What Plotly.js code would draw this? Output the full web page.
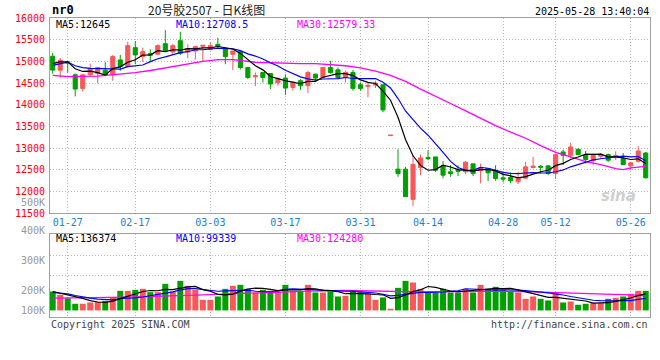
<!DOCTYPE html>
<html>
<head>
<meta charset="utf-8">
<script src="https://cdn.plot.ly/plotly-3.0.1.min.js"></script>
<style>html,body{margin:0;padding:0;background:#fff;}#chart{width:660px;height:360px;}</style>
</head>
<body>
<div id="chart"></div>
<script>
const dates = ["01-23","01-24","01-27","02-05","02-06","02-07","02-10","02-11","02-12","02-13",
 "02-14","02-17","02-18","02-19","02-20","02-21","02-24","02-25","02-26","02-27",
 "02-28","03-03","03-04","03-05","03-06","03-07","03-10","03-11","03-12","03-13",
 "03-14","03-17","03-18","03-19","03-20","03-21","03-24","03-25","03-26","03-27",
 "03-28","03-31","04-01","04-02","04-03","04-07","04-08","04-09","04-10","04-11",
 "04-14","04-15","04-16","04-17","04-18","04-21","04-22","04-23","04-24","04-25",
 "04-28","04-29","04-30","05-06","05-07","05-08","05-09","05-12","05-13","05-14",
 "05-15","05-16","05-19","05-20","05-21","05-22","05-23","05-26","05-27","05-28"];

const openP = [15118,14798,14990,14691,14378,14691,14722,14798,14691,15035,
 14882,15317,15111,15180,15164,15408,15218,15477,15218,15240,
 15350,15271,15393,15294,15164,15225,14859,14645,14745,14722,
 14508,14615,14401,14554,14439,14706,14630,14859,14806,14630,
 14745,14462,14417,14455,14462,13290,12517,12517,11822,12555,
 12784,12799,12593,12456,12494,12456,12639,12479,12532,12479,
 12318,12326,12227,12310,12555,12586,12593,12418,12914,12837,
 12975,12837,12708,12814,12853,12814,12761,12593,12700,12890];
const closeP = [14800,15027,14960,14363,14691,14836,14859,14684,15111,14882,
 15363,15149,15225,15140,15363,15256,15363,15187,15294,15340,
 15370,15363,15347,15111,15240,14859,14630,14668,14630,14478,
 14607,14386,14516,14439,14745,14615,14859,14745,14630,14745,
 14378,14378,14447,14500,13882,13300,12418,11883,12623,12776,
 12761,12494,12379,12418,12471,12677,12418,12547,12433,12303,
 12288,12250,12318,12570,12586,12563,12418,12853,12837,13028,
 12853,12738,12837,12860,12723,12830,12624,12662,12936,12318];
const highP = [15195,15080,15010,14722,14706,14951,14870,14981,15149,15149,
 15454,15470,15317,15280,15393,15720,15408,15683,15393,15355,
 15380,15439,15546,15294,15240,15240,14874,14745,14745,14722,
 14630,14706,14516,14592,14783,14722,14874,15011,14859,14783,
 14806,14516,14516,14554,14462,13300,12975,12570,12837,12852,
 12952,12799,12707,12608,12608,12707,12639,12646,12532,12608,
 12456,12440,12456,12685,12799,12608,12608,12853,12967,13120,
 12997,12936,12875,12890,12875,12929,12890,12685,13051,12914];
const lowP = [14714,14622,14740,14195,14310,14668,14493,14660,14554,14783,
 14859,14935,14989,14980,15149,15225,15149,15149,15073,15042,
 15010,15271,15302,14935,14798,14813,14592,14432,14516,14363,
 14439,14226,14325,14340,14272,14554,14615,14722,14592,14516,
 14325,14325,14172,14386,13829,13290,12341,11883,11670,12379,
 12723,12456,12303,12341,12356,12402,12356,12189,12242,12250,
 12212,12189,12174,12295,12532,12418,12380,12288,12608,12761,
 12837,12646,12608,12761,12684,12723,12624,12494,12669,12303];

const ma5P = [14950,14990,14990,14830,14768,14775,14742,14687,14836,14874,
 14980,15038,15146,15152,15248,15227,15269,15262,15293,15288,
 15311,15311,15343,15306,15286,15184,15037,14902,14805,14653,
 14603,14554,14523,14485,14539,14540,14635,14681,14719,14719,
 14671,14575,14516,14490,14317,14105,13713,13200,12825,12604,
 12492,12507,12607,12566,12505,12488,12473,12506,12509,12476,
 12398,12364,12318,12346,12402,12457,12491,12598,12651,12740,
 12798,12862,12859,12863,12802,12798,12775,12740,12755,12645];
const ma10P = [14910,14950,14985,14900,14855,14840,14835,14835,14835,14821,
 14878,14890,14917,14994,15061,15104,15154,15204,15223,15268,
 15269,15290,15303,15300,15287,15248,15174,15123,15056,14970,
 14894,14796,14713,14645,14596,14572,14595,14602,14602,14629,
 14606,14605,14599,14605,14518,14388,14144,13858,13658,13461,
 13299,13110,12904,12696,12555,12490,12490,12557,12538,12491,
 12443,12419,12412,12428,12439,12428,12428,12458,12499,12571,
 12628,12677,12729,12757,12771,12798,12819,12800,12809,12708.5];
const ma30Dates = ["01-23","01-27","02-10","02-13","02-17","02-19","02-21","02-26","02-28","03-04",
 "03-06","03-11","03-14","03-19","03-21","03-27","03-31","04-02","04-07","04-09",
 "04-11","04-15","04-17","04-21","04-23","04-25","04-29","05-06","05-08","05-12",
 "05-14","05-16","05-20","05-22","05-23","05-26","05-28"];
const ma30P = [14676,14650,14660,14700,14740,14790,14850,14930,15000,15040,
 15040,14980,14960,14950,14950,14900,14850,14775,14680,14540,
 14360,14200,14030,13860,13690,13520,13370,13230,13060,12905,
 12800,12690,12620,12530,12505,12545,12579.33];

const volume = [156750,129250,101750,55000,55000,66000,71500,79750,110000,162250,
 162250,170500,178750,151250,151250,220000,156750,244750,203500,170500,
 88000,88000,115500,178750,203500,211750,178750,148500,170500,162250,
 156750,211750,162250,156750,211750,148500,148500,156750,115500,121000,
 162250,151250,137500,88000,107250,13750,187000,244750,231000,178750,
 148500,148500,178750,148500,148500,178750,148500,211750,178750,195250,
 170500,156750,148500,96250,115500,96250,82500,148500,66000,74250,
 46750,55000,60500,60500,96250,104500,115500,137500,162250,162250];
const volMa5 = [156750,143000,129250,110000,99550,81400,69850,65450,76450,97900,
 117150,136950,156750,165000,162800,174350,171600,184800,195250,199100,
 172700,158950,133100,128150,134750,159500,177650,184250,182600,174350,
 163350,169950,172700,169950,179850,178200,165550,164450,156200,138050,
 140800,141350,137500,132000,129250,99550,106700,128150,156750,171050,
 198000,190300,177100,160600,154550,160600,160600,167200,173250,182600,
 180950,182600,169950,153450,137500,122650,107800,107800,101750,93500,
 83600,78100,60500,59400,63800,75350,87450,102850,123200,136374];
const volMa10 = [148500,145750,137500,123750,110000,101750,93500,90750,88000,98700,
 99300,103400,111100,120700,130350,145750,154300,170800,180100,180950,
 173500,165300,158950,161700,166900,166100,168300,158700,155400,154550,
 161400,173800,178500,176300,177100,170800,167750,168600,163100,158950,
 159500,153450,151000,144100,133650,120200,124000,132800,144400,150150,
 148800,148500,152600,158700,162800,179300,175450,172150,166900,168600,
 170800,171600,168600,163350,160050,151800,145200,138900,127600,115500,
 103100,92950,84150,80600,78650,79500,82800,81700,91300,99339];
const volMa30Dates = ["01-23","02-14","02-28","03-13","03-20","03-27","04-03","04-11","04-18","04-25","05-07","05-14","05-21","05-28"];
const volMa30 = [101750,110000,129250,151250,159500,165000,159500,154000,156750,159500,154000,145750,134750,124280];

const tickDates = ["01-27","02-17","03-03","03-17","03-31","04-14","04-28","05-12","05-26"];
const priceTicks = [11500,12000,12500,13000,13500,14000,14500,15000,15500,16000];
const priceTickText = ["11500","12000","12500","13000","13500","14000","14500","15000","15500","16000"];
const volGrid = [288750,451275];

const RED = '#f85858', GREEN = '#00a000';
const MONO = 'DejaVu Sans Mono, Liberation Mono, monospace';
const GRID = '#b8b8b8', BOX = '#a0a0a0';
const last = a => a[a.length - 1];
const volColors = closeP.map((c, i) => c >= openP[i] ? RED : GREEN);

const traces = [
  {type:'candlestick', x:dates, open:openP, high:highP, low:lowP, close:closeP,
   xaxis:'x', yaxis:'y', whiskerwidth:0,
   increasing:{line:{color:RED, width:1}, fillcolor:RED},
   decreasing:{line:{color:GREEN, width:1}, fillcolor:GREEN},
   hoverinfo:'skip'},
  {type:'scatter', mode:'lines', x:ma30Dates, y:ma30P, xaxis:'x', yaxis:'y', line:{color:'#ff00ff', width:1.3}},
  {type:'scatter', mode:'lines', x:dates, y:ma10P, xaxis:'x', yaxis:'y', line:{color:'#0000ff', width:1.2}},
  {type:'scatter', mode:'lines', x:dates, y:ma5P, xaxis:'x', yaxis:'y', line:{color:'#000000', width:1.2}},
  {type:'bar', x:dates, y:volume, xaxis:'x2', yaxis:'y2', width:0.8, marker:{color:volColors, line:{width:0}}},
  {type:'scatter', mode:'lines', x:volMa30Dates, y:volMa30, xaxis:'x2', yaxis:'y2', line:{color:'#ff00ff', width:1.3}},
  {type:'scatter', mode:'lines', x:dates, y:volMa10, xaxis:'x2', yaxis:'y2', line:{color:'#0000ff', width:1.2}},
  {type:'scatter', mode:'lines', x:dates, y:volMa5, xaxis:'x2', yaxis:'y2', line:{color:'#000000', width:1.2}}
];

const W = 600, H = 299, L = 50, T = 18;
const px = x => (x - L) / W;
const py = y => (317 - y) / H;

function ann(text, x, y, color, anchor, size, extra) {
  return Object.assign({text:text, xref:'paper', yref:'paper', x:px(x), y:py(y),
    xanchor:anchor, yanchor:'middle', showarrow:false,
    font:{family:MONO, size:size || 10, color:color}}, extra || {});
}

const annotations = [
  ann('<b>nr0</b>', 50, 10.5, '#000', 'left', 12),
  ann('20号胶2507 - 日K线图', 206, 9.5, '#222', 'center', 12, {font:{family:'Noto Sans CJK SC, DejaVu Sans', size:12, color:'#222'}}),
  ann('2025-05-28 13:40:04', 651, 11, '#000', 'right', 10),
  ann('MA5:' + last(ma5P), 54, 24.3, '#000', 'left'),
  ann('MA10:' + last(ma10P), 174, 24.3, '#0000ff', 'left'),
  ann('MA30:' + last(ma30P), 295, 24.3, '#ff00ff', 'left'),
  ann('MA5:' + last(volMa5), 54, 239, '#000', 'left'),
  ann('MA10:' + last(volMa10), 174, 239, '#0000ff', 'left'),
  ann('MA30:' + last(volMa30), 295, 239, '#ff00ff', 'left'),
  ann('500K', 47, 202, '#999', 'right'),
  ann('400K', 47, 230.7, '#999', 'right'),
  ann('300K', 47, 260.3, '#999', 'right'),
  ann('200K', 47, 290.3, '#999', 'right'),
  ann('100K', 47, 310.3, '#999', 'right'),
  ann('Copyright 2025 SINA.COM', 49, 324, '#444', 'left'),
  ann('http://finance.sina.com.cn', 650, 324, '#444', 'right'),
  ann('<i><b>sina</b></i>', 618, 196, '#d0d0d0', 'center', 15, {font:{family:'DejaVu Sans', size:15, color:'#cfcfcf'}})
];

const layout = {
  width:660, height:360,
  margin:{l:L, r:10, t:T, b:43, pad:0},
  paper_bgcolor:'#fff', plot_bgcolor:'#fff',
  showlegend:false, hovermode:false,
  boxgap:0.22,
  font:{family:MONO, size:10},
  xaxis:{domain:[0,1], anchor:'y', type:'category', range:[-0.36, 79.57],
    tickvals:tickDates, ticktext:tickDates, ticks:'', tickfont:{family:MONO, size:10, color:'#1a80dc'},
    showgrid:true, gridcolor:GRID, griddash:'1px,2px', gridwidth:1,
    showline:true, mirror:true, linecolor:BOX, linewidth:1, zeroline:false,
    rangeslider:{visible:false}, fixedrange:true},
  yaxis:{domain:[py(213.3), 1], anchor:'x', range:[11500,16000],
    tickvals:priceTicks, ticktext:priceTickText, ticks:'', tickfont:{family:MONO, size:10, color:'#ff0000'},
    ticklabelstandoff:2,
    showgrid:true, gridcolor:GRID, griddash:'1px,2px', gridwidth:1,
    showline:true, mirror:true, linecolor:BOX, linewidth:1, zeroline:false, fixedrange:true},
  xaxis2:{domain:[0,1], anchor:'y2', type:'category', matches:'x', range:[-0.36, 79.57],
    tickvals:tickDates, showticklabels:false, ticks:'',
    showgrid:true, gridcolor:GRID, griddash:'1px,2px', gridwidth:1,
    showline:true, mirror:true, linecolor:BOX, linewidth:1, zeroline:false, fixedrange:true},
  yaxis2:{domain:[0, py(234)], anchor:'x2', range:[-54450, 632775],
    tickvals:volGrid, showticklabels:false, ticks:'',
    showgrid:true, gridcolor:GRID, griddash:'1px,2px', gridwidth:1,
    showline:true, mirror:true, linecolor:BOX, linewidth:1, zeroline:false, fixedrange:true},
  annotations:annotations
};

Plotly.newPlot('chart', traces, layout, {staticPlot:true, displayModeBar:false});
</script>
</body>
</html>
